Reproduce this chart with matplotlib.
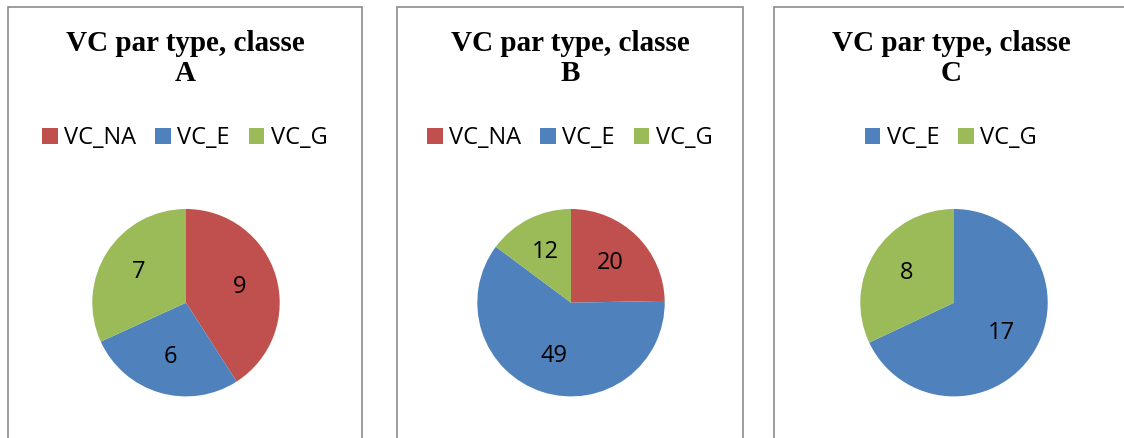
import matplotlib
matplotlib.use('Agg')
import matplotlib.pyplot as plt
from matplotlib.patches import Rectangle

# data
titles = ['VC par type, classe\nA', 'VC par type, classe\nB', 'VC par type, classe\nC']
labels_a = ['VC_NA', 'VC_E', 'VC_G']
values_a = [9, 6, 7]
labels_b = ['VC_NA', 'VC_E', 'VC_G']
values_b = [20, 49, 12]
labels_c = ['VC_E', 'VC_G']
values_c = [17, 8]

colors = {'VC_NA': '#C0504D', 'VC_E': '#4F81BD', 'VC_G': '#9BBB59'}

W, H = 1124, 438
fig = plt.figure(figsize=(W / 100, H / 100), dpi=100)
fig.patch.set_facecolor('white')

# panel layout in pixels: (left, right), pie centre x
panels = [(8, 362, 186), (397, 743, 571), (774, 1128, 954)]
pie_cy, pie_r = 302.7, 93.7

sans = ['Open Sans', 'DejaVu Sans']
serif = ['Liberation Serif', 'DejaVu Serif']

data = [(labels_a, values_a), (labels_b, values_b), (labels_c, values_c)]

for (left, right, cx), title, (labels, values) in zip(panels, titles, data):
    # panel frame
    fig.patches.append(Rectangle((left / W, -0.05), (right - left) / W, (H - 7) / H + 0.05,
                                 transform=fig.transFigure, facecolor='none',
                                 edgecolor='#8c8c8c', linewidth=1.2, zorder=-1))
    mid = (left + right) / 2

    fig.text(mid / W, 1 - 30 / H, title, ha='center', va='top',
             fontsize=21, fontweight='bold', family=serif, linespacing=1.16)

    ax = fig.add_axes([(cx - pie_r) / W, (H - pie_cy - pie_r) / H, 2 * pie_r / W, 2 * pie_r / H])
    total = sum(values)
    wedges, _, autotexts = ax.pie(values, colors=[colors[l] for l in labels],
                                  startangle=90, counterclock=False,
                                  autopct=lambda p, t=total: f'{round(p * t / 100)}',
                                  pctdistance=0.6,
                                  wedgeprops=dict(linewidth=0),
                                  textprops=dict(fontsize=17, family=sans, color='black'))
    ax.set_xlim(-1, 1)
    ax.set_ylim(-1, 1)
    ax.set_aspect('equal')

    ax.legend(wedges, labels, loc='center', bbox_to_anchor=(mid / W, 1 - 138 / H),
              bbox_transform=fig.transFigure, ncol=len(labels), frameon=False,
              prop=dict(family=sans, size=17), handlelength=0.65, handleheight=0.65,
              handletextpad=0.28, columnspacing=0.8, borderaxespad=0, borderpad=0)

fig.savefig('out.png', dpi=100, facecolor='white')
